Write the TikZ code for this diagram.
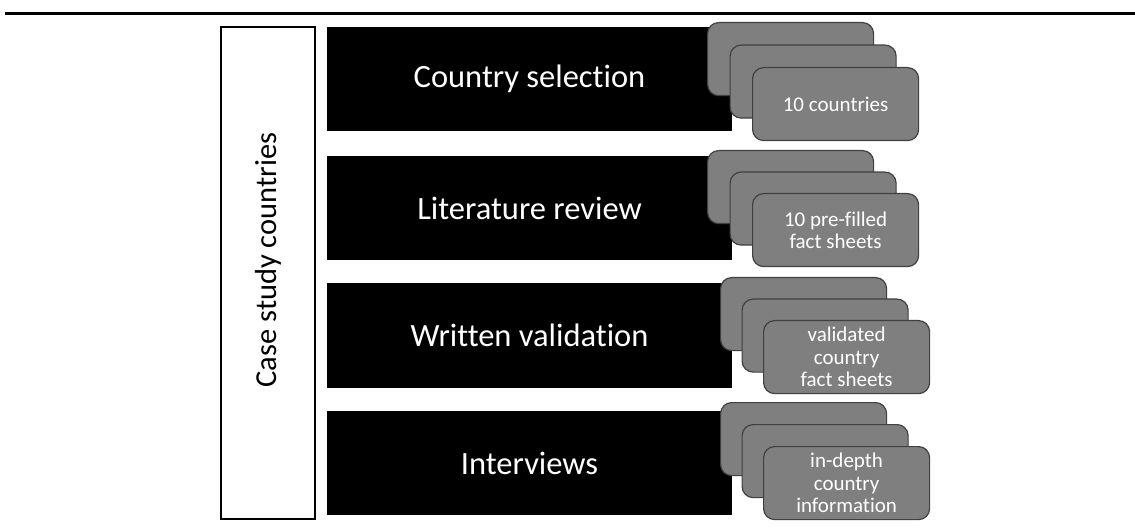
\documentclass[tikz,border=0pt]{standalone}
\usepackage{fontspec}
\setmainfont[Ligatures=CommonOff]{Carlito}
\definecolor{cardfill}{HTML}{7F7F7F}
\definecolor{cardedge}{HTML}{404040}
\tikzset{
  stepbox/.style={fill=black, draw=none, inner sep=0pt,
    minimum width=405pt, minimum height=104pt, text=white,
    font=\fontsize{32.5}{38}\selectfont},
  card/.style={fill=cardfill, draw=cardedge, line width=1.2pt,
    rounded corners=11pt, anchor=north west, inner sep=0pt,
    minimum width=166pt, minimum height=73pt, text=white, align=center,
    font=\fontsize{21}{22.5}\selectfont},
  sidebox/.style={draw=black, line width=1.3pt, fill=white, inner sep=0pt,
    minimum width=94pt, minimum height=492pt},
}
\begin{document}
\begin{tikzpicture}[x=1pt, y=-1pt]
  \useasboundingbox (0,0) rectangle (1135,529);
  % top rule
  \draw[line width=3pt] (5,13.5) -- (1135,13.5);

  % side label box
  \node[sidebox] (side) at (268,273) {};
  \node[rotate=90, font=\fontsize{30.5}{36}\selectfont] (sidetext) at (268,260) {Case study countries};

  % process steps
  \node[stepbox] (s1) at (529.5,79)  {Country selection};
  \node[stepbox] (s2) at (529.5,208) {Literature review};
  \node[stepbox] (s3) at (529.5,335.5) {Written validation};
  \node[stepbox] (s4) at (529.5,463) {Interviews};

  % stacked output cards
  \node[card] (c1a) at (707,22)  {};
  \node[card] (c1b) at (729.5,44.5) {};
  \node[card] (c1c) at (752,67)  {10 countries};

  \node[card] (c2a) at (707,150) {};
  \node[card] (c2b) at (729.5,171.5) {};
  \node[card] (c2c) at (752,193) {10 pre-filled\\fact sheets};

  \node[card] (c3a) at (720,277) {};
  \node[card] (c3b) at (741.5,298.5) {};
  \node[card] (c3c) at (763,320) {validated\\country\\fact sheets};

  \node[card] (c4a) at (720,402) {};
  \node[card] (c4b) at (741.5,424) {};
  \node[card] (c4c) at (763,446) {in-depth\\country\\information};
\end{tikzpicture}
\end{document}
